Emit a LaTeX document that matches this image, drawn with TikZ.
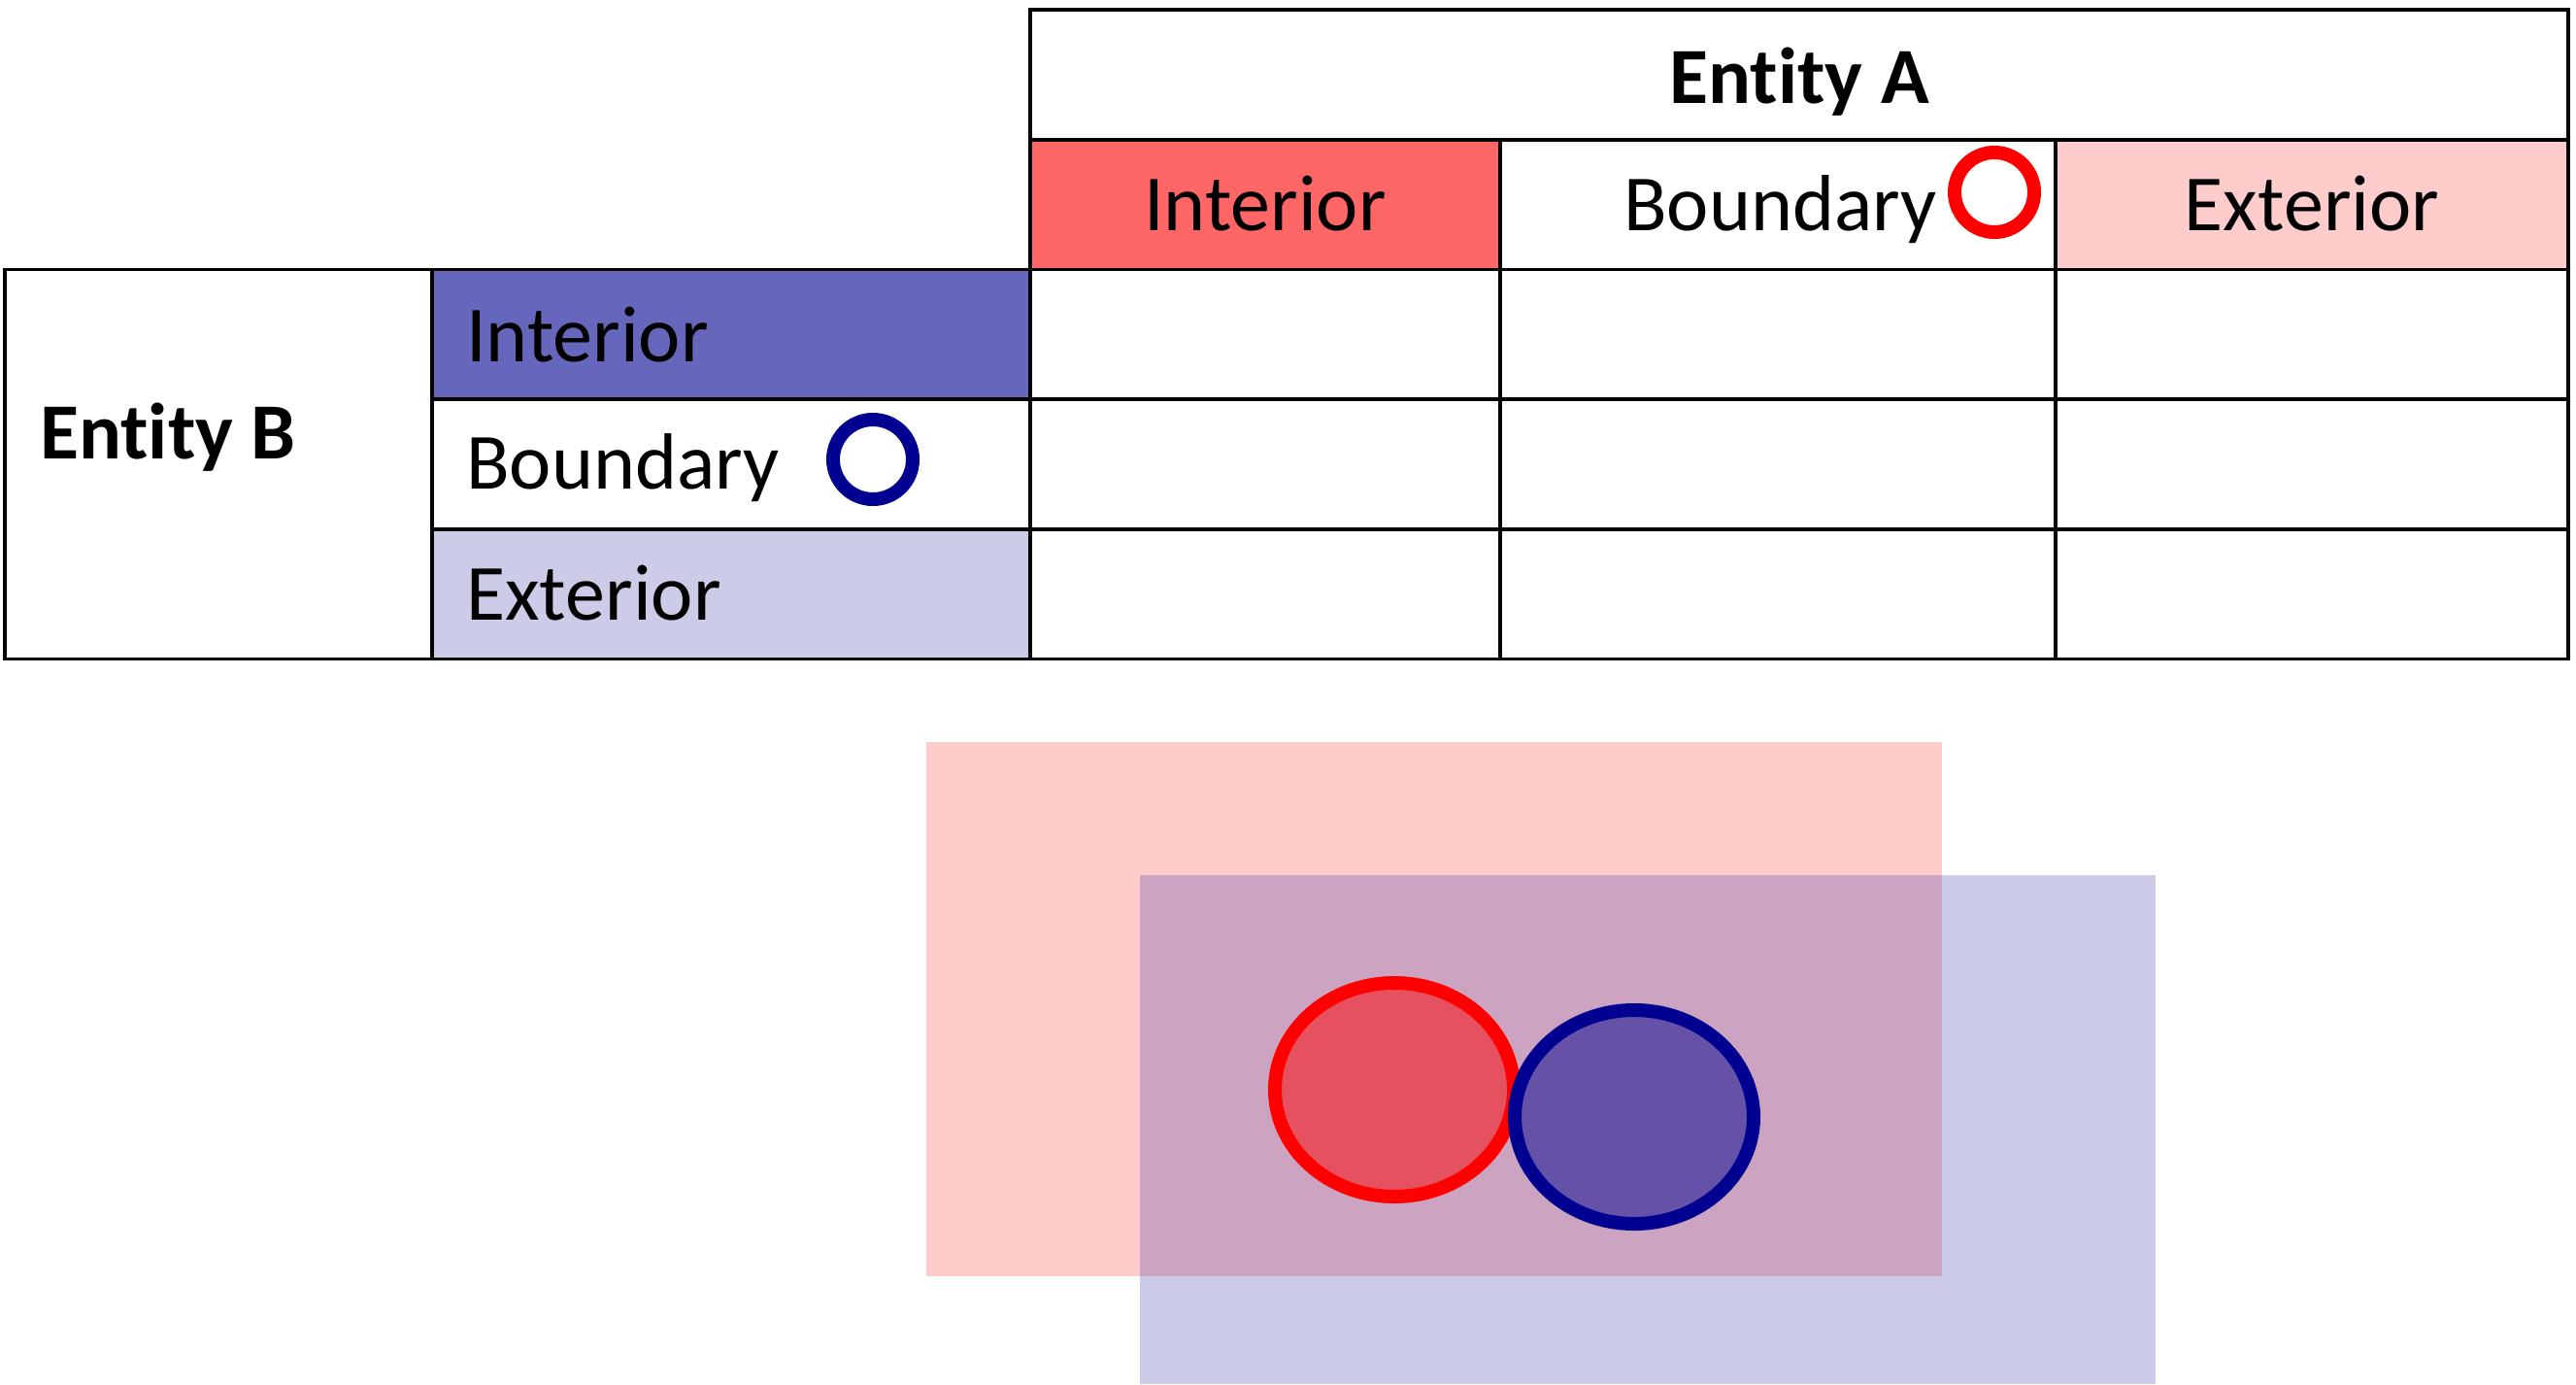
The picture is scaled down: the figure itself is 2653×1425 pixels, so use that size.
\documentclass[tikz,border=0pt]{standalone}
\usepackage{fontspec}
\setmainfont{Carlito}[Ligatures=NoCommon]
\definecolor{bnavy}{RGB}{0,0,145}
\definecolor{rint}{RGB}{255,102,102}
\definecolor{rext}{RGB}{255,204,204}
\definecolor{bint}{RGB}{102,102,188}
\definecolor{bext}{RGB}{204,204,233}
\begin{document}
\begin{tikzpicture}[x=1pt,y=-1pt,
  cell/.style={draw=black,line width=3.5pt},
  lbl/.style={font=\fontsize{82}{98}\selectfont,inner sep=0pt,text height=53pt,text depth=0pt},
  blbl/.style={lbl,font=\fontsize{82}{98}\selectfont\bfseries},
  ring/.style={circle,minimum size=82pt,inner sep=0pt,line width=14pt}
]
\useasboundingbox (0,0) rectangle (2653,1425);
% header cells
\draw[cell] (1061,10) rectangle (2645,144);
\filldraw[cell,fill=rint] (1061,144) rectangle (1545,277.5);
\draw[cell] (1545,144) rectangle (2117,277.5);
\filldraw[cell,fill=rext] (2117,144) rectangle (2645,277.5);
\draw[cell] (5,277.5) rectangle (445,678.5);
\filldraw[cell,fill=bint] (445,277.5) rectangle (1061,411);
\draw[cell] (445,411) rectangle (1061,545);
\filldraw[cell,fill=bext] (445,545) rectangle (1061,678.5);
% body cells
\foreach \xa/\xb in {1061/1545,1545/2117,2117/2645}{
  \draw[cell] (\xa,277.5) rectangle (\xb,411);
  \draw[cell] (\xa,411) rectangle (\xb,545);
  \draw[cell] (\xa,545) rectangle (\xb,678.5);
}
% labels
\node[blbl] (entA) at (1853,80) {Ent\kern0pt ity A};
\node[lbl] (aint) at (1303,211) {Interior};
\node[lbl,anchor=west] (abnd) at (1672,211) {Boundary};
\node[ring,draw=red] (aring) at (2054,198) {};
\node[lbl] (aext) at (2381,211) {Exterior};
\node[blbl,anchor=west] (entB) at (41,446) {Ent\kern0pt ity B};
\node[lbl,anchor=west] (bint) at (480,346) {Interior};
\node[lbl,anchor=west] (bbnd) at (480,477) {Boundary};
\node[ring,draw=bnavy] (bring) at (899,473) {};
\node[lbl,anchor=west] (bext) at (480,612) {Exterior};
% lower illustration
\fill[red,opacity=0.2] (954,764) rectangle (2000,1314);
\fill[bnavy,opacity=0.2] (1174,901) rectangle (2220,1425);
\fill[red,opacity=0.5] (1436,1122) ellipse [x radius=123, y radius=110];
\draw[red,line width=14pt] (1436,1122) ellipse [x radius=123, y radius=110];
\fill[bnavy,opacity=0.5] (1683,1150) ellipse [x radius=123, y radius=110];
\draw[bnavy,line width=14pt] (1683,1150) ellipse [x radius=123, y radius=110];
\end{tikzpicture}
\end{document}
